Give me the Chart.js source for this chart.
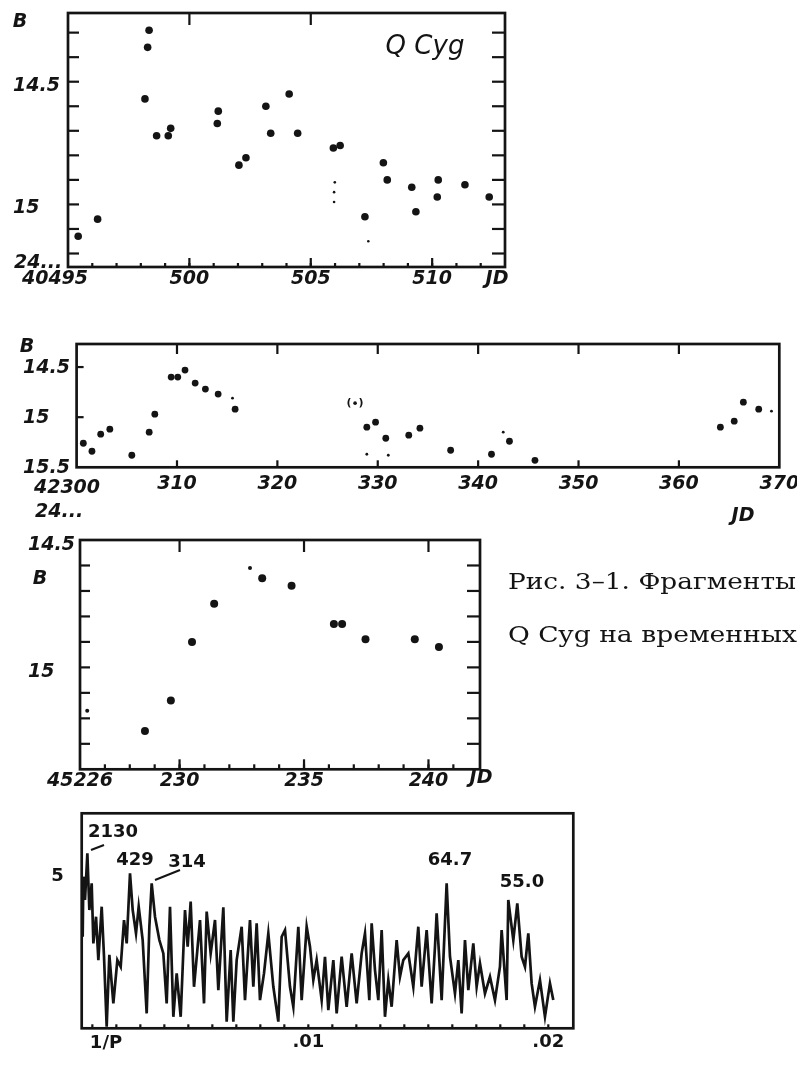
<!DOCTYPE html>
<html>
<head>
<meta charset="utf-8">
<script src="https://cdn.jsdelivr.net/npm/chart.js@4.4.1/dist/chart.umd.min.js"></script>
<style>
  html, body { margin: 0; padding: 0; background: #fff; }
  #page { position: relative; width: 797px; height: 1066px; overflow: hidden; background: #fff; }
  canvas { position: absolute; left: 0; }
</style>
</head>
<body>
<div id="page">
  <canvas id="c1" width="540" height="300" style="top:0px"></canvas>
  <canvas id="c2" width="797" height="220" style="top:320px"></canvas>
  <canvas id="c3" width="797" height="275" style="top:525px"></canvas>
  <canvas id="c4" width="600" height="266" style="top:800px"></canvas>
</div>
<script>
// --- panel 1: JD 2440495..513, B magnitude
const p1Jd = [495.42, 496.22, 498.34, 498.28, 498.17, 498.65, 499.13, 499.23, 501.19, 501.15, 502.04, 502.33, 503.15, 503.35, 504.11, 504.46, 505.93, 506.21, 507.23, 507.99, 508.15, 509.16, 509.33, 510.25, 510.21, 511.35, 512.35];
const p1B = [15.13, 15.06, 14.29, 14.36, 14.57, 14.72, 14.72, 14.69, 14.62, 14.67, 14.84, 14.81, 14.60, 14.71, 14.55, 14.71, 14.77, 14.76, 15.05, 14.83, 14.90, 14.93, 15.03, 14.90, 14.97, 14.92, 14.97];
const p1FaintJd = [505.99, 505.96, 505.96, 507.37];
const p1FaintB = [14.91, 14.95, 14.99, 15.15];
const p1XTicks = [500, 505, 510];
const p1YTicks = [14.5, 15];

// --- panel 2: JD 2442300..370
const p2Jd = [300.67, 301.53, 302.40, 303.31, 305.50, 307.23, 307.79, 309.42, 310.08, 310.80, 311.81, 312.83, 314.10, 315.79, 328.91, 329.78, 330.80, 333.09, 334.20, 337.26, 341.33, 343.12, 345.66, 364.13, 365.51, 366.42, 367.95];
const p2B = [15.26, 15.34, 15.17, 15.12, 15.38, 15.15, 14.97, 14.60, 14.60, 14.53, 14.66, 14.72, 14.77, 14.92, 15.10, 15.05, 15.21, 15.18, 15.11, 15.33, 15.37, 15.24, 15.43, 15.10, 15.04, 14.85, 14.92];
const p2FaintJd = [315.53, 328.91, 331.05, 342.50, 369.22];
const p2FaintB = [14.81, 15.37, 15.38, 15.15, 14.94];
const p2BracketJd = [327.74];
const p2BracketB = [14.86];
const p2XTicks = [310, 320, 330, 340, 350, 360, 370];
const p2YTicks = [14.5, 15, 15.5];

// --- panel 3: JD 2445226..242
const p3Jd = [228.61, 229.65, 230.50, 231.39, 233.32, 234.50, 236.20, 236.53, 237.47, 239.45, 240.42];
const p3B = [15.25, 15.13, 14.90, 14.75, 14.65, 14.68, 14.83, 14.83, 14.89, 14.89, 14.92];
const p3FaintJd = [226.29, 232.83];
const p3FaintB = [15.17, 14.61];
const p3XTicks = [226, 230, 235, 240];
const p3YTicks = [14.5, 15];

// --- panel 4: power spectrum vs frequency 1/P
const freq = [0.000597, 0.000625, 0.000694, 0.000792, 0.000875, 0.000972, 0.001042, 0.001153, 0.00125, 0.001389,
  0.001486, 0.001597, 0.001708, 0.001875, 0.002042, 0.002181, 0.002319, 0.002431, 0.002569, 0.002681,
  0.002819, 0.002931, 0.003097, 0.003264, 0.003375, 0.003472, 0.003611, 0.003792, 0.003958, 0.004097,
  0.004236, 0.004375, 0.004514, 0.004681, 0.004861, 0.004972, 0.005097, 0.005236, 0.005375, 0.005486,
  0.005653, 0.005764, 0.005931, 0.006111, 0.00625, 0.006458, 0.006597, 0.006764, 0.006875, 0.007014,
  0.007222, 0.007361, 0.007569, 0.007708, 0.007847, 0.007986, 0.008153, 0.008333, 0.008542, 0.00875,
  0.008889, 0.009028, 0.009236, 0.009375, 0.009583, 0.009722, 0.009931, 0.010069, 0.010208, 0.010347,
  0.010556, 0.010694, 0.010833, 0.011042, 0.011181, 0.011389, 0.011597, 0.011806, 0.012014, 0.012222,
  0.012361, 0.012542, 0.012639, 0.012778, 0.012917, 0.013056, 0.013194, 0.013333, 0.013472, 0.013681,
  0.013819, 0.013958, 0.014167, 0.014375, 0.014583, 0.014722, 0.014931, 0.015139, 0.015278, 0.015347,
  0.015556, 0.015764, 0.015903, 0.016111, 0.01625, 0.016389, 0.016528, 0.016667, 0.016875, 0.017014,
  0.017153, 0.017361, 0.017569, 0.017778, 0.017986, 0.018056, 0.018264, 0.018333, 0.018542, 0.018708,
  0.018889, 0.019028, 0.019167, 0.019306, 0.019444, 0.019653, 0.019861, 0.020069, 0.020208];
const power = [0.302, 0.500, 0.423, 0.577, 0.390, 0.478, 0.280, 0.368, 0.225, 0.401,
  0.236, 0.005, 0.242, 0.082, 0.225, 0.203, 0.357, 0.280, 0.511, 0.390,
  0.313, 0.401, 0.291, 0.049, 0.335, 0.478, 0.368, 0.291, 0.247, 0.082,
  0.401, 0.038, 0.181, 0.038, 0.390, 0.269, 0.418, 0.137, 0.258, 0.357,
  0.082, 0.385, 0.247, 0.357, 0.126, 0.399, 0.022, 0.258, 0.022, 0.225,
  0.335, 0.093, 0.357, 0.137, 0.346, 0.093, 0.181, 0.313, 0.137, 0.022,
  0.302, 0.324, 0.137, 0.071, 0.335, 0.093, 0.335, 0.269, 0.159, 0.225,
  0.093, 0.236, 0.060, 0.225, 0.049, 0.236, 0.071, 0.247, 0.082, 0.247,
  0.313, 0.093, 0.346, 0.192, 0.093, 0.324, 0.038, 0.159, 0.071, 0.291,
  0.170, 0.225, 0.247, 0.137, 0.335, 0.137, 0.324, 0.082, 0.269, 0.379,
  0.093, 0.478, 0.236, 0.115, 0.225, 0.049, 0.291, 0.126, 0.280, 0.137,
  0.214, 0.115, 0.170, 0.093, 0.203, 0.324, 0.093, 0.423, 0.291, 0.412,
  0.236, 0.203, 0.313, 0.148, 0.071, 0.159, 0.038, 0.148, 0.093];
const freqTicks = [0.01, 0.02];
const powerTicks = [0.5];

const INK = '#141414';
const HAND = { family: 'DejaVu Sans', size: 19, style: 'italic', weight: 'bold' };
const PLAIN = { family: 'DejaVu Sans', size: 18, weight: 'bold' };
const HAND_CSS = 'italic bold 19px "DejaVu Sans"';
const PLAIN_CSS = 'bold 18px "DejaVu Sans"';
const SERIF_CSS = '22px "DejaVu Serif"';

function range(a, b, step) {
  const out = [];
  for (let v = a; v <= b + step / 2; v += step) out.push(+v.toFixed(5));
  return out;
}
const pts = (xs, ys) => xs.map((x, i) => ({ x, y: ys[i] }));

// frame, inward ticks and loose lettering of the scanned figure
const paper = {
  id: 'paper',
  afterDraw(chart, args, o) {
    const { ctx, chartArea: a, scales } = chart;
    ctx.save();
    ctx.strokeStyle = INK;
    ctx.fillStyle = INK;
    ctx.lineWidth = o.frame || 2.7;
    ctx.strokeRect(a.left, a.top, a.right - a.left, a.bottom - a.top);

    ctx.lineWidth = 2.2;
    (o.ticks || []).forEach(t => {
      t.at.forEach(v => {
        ctx.beginPath();
        if (t.side === 'bottom' || t.side === 'top') {
          const p = scales.x.getPixelForValue(v);
          const y0 = t.side === 'bottom' ? a.bottom : a.top;
          ctx.moveTo(p, y0);
          ctx.lineTo(p, y0 + (t.side === 'bottom' ? -t.len : t.len));
        } else {
          const p = scales.y.getPixelForValue(v);
          const x0 = t.side === 'left' ? a.left : a.right;
          ctx.moveTo(x0, p);
          ctx.lineTo(x0 + (t.side === 'left' ? t.len : -t.len), p);
        }
        ctx.stroke();
      });
    });

    if (o.brackets != null) {
      ctx.font = 'bold 11px "DejaVu Sans"';
      ctx.textAlign = 'center';
      ctx.textBaseline = 'middle';
      chart.getDatasetMeta(o.brackets).data.forEach(pt => {
        ctx.fillText('(', pt.x - 6, pt.y);
        ctx.fillText(')', pt.x + 6, pt.y);
      });
    }

    // texts are given in page coordinates
    ctx.translate(0, -chart.canvas.offsetTop);
    (o.texts || []).forEach(s => {
      ctx.font = s.font;
      ctx.textAlign = s.align || 'center';
      ctx.textBaseline = s.base || 'middle';
      if (s.w) {
        const m = ctx.measureText(s.t).width;
        ctx.save();
        ctx.translate(s.x, s.y);
        ctx.scale(s.w / m, 1);
        ctx.textAlign = 'left';
        ctx.fillText(s.t, 0, 0);
        ctx.restore();
      } else {
        ctx.fillText(s.t, s.x, s.y);
      }
    });
    ctx.lineWidth = 2;
    (o.lines || []).forEach(l => {
      ctx.beginPath();
      ctx.moveTo(l[0], l[1]);
      ctx.lineTo(l[2], l[3]);
      ctx.stroke();
    });
    ctx.restore();
  }
};

function xAxis(min, max, ticks, fmt, height, pad, font) {
  return {
    type: 'linear', min, max,
    grid: { display: false, drawTicks: false },
    border: { display: false },
    ticks: { font, color: INK, padding: pad, maxRotation: 0, autoSkip: false, callback: fmt },
    afterBuildTicks: s => { s.ticks = ticks.map(v => ({ value: v })); },
    afterFit: s => { s.height = height; s.paddingLeft = 0; s.paddingRight = 0; }
  };
}

function yAxis(min, max, ticks, fmt, width, opts) {
  return {
    type: 'linear', min, max, reverse: opts.reverse,
    grid: { display: false, drawTicks: false },
    border: { display: false },
    ticks: {
      font: opts.font, color: INK, padding: opts.pad || 0, crossAlign: opts.align,
      labelOffset: opts.shift || 0, autoSkip: false, callback: fmt
    },
    afterBuildTicks: s => { s.ticks = ticks.map(v => ({ value: v })); },
    afterFit: s => { s.width = width; s.paddingTop = 0; s.paddingBottom = 0; }
  };
}

function dots(data, r) {
  return { data, pointRadius: r, pointBackgroundColor: INK, pointBorderWidth: 0, clip: 6 };
}

const base = {
  responsive: false,
  animation: false,
  events: []
};

// panel 1
new Chart(document.getElementById('c1'), {
  type: 'scatter',
  data: { datasets: [dots(pts(p1Jd, p1B), 3.8), dots(pts(p1FaintJd, p1FaintB), 1.3)] },
  options: {
    ...base,
    layout: { padding: { left: 13, top: 13, right: 35, bottom: 0 } },
    scales: {
      x: xAxis(495, 513, p1XTicks, v => String(v), 33, 1, HAND),
      y: yAxis(14.22, 15.255, p1YTicks, v => String(v), 55, { reverse: true, font: HAND, align: 'far', shift: 4 })
    },
    plugins: {
      legend: { display: false }, tooltip: { enabled: false },
      paper: {
        ticks: [
          { side: 'bottom', at: range(496, 512, 1), len: 4 },
          { side: 'bottom', at: p1XTicks, len: 9 },
          { side: 'top', at: [500, 505], len: 12 },
          { side: 'left', at: range(14.3, 15.2, 0.1), len: 11 },
          { side: 'right', at: range(14.3, 15.2, 0.1), len: 13 }
        ],
        texts: [
          { t: 'B', x: 20, y: 22, font: HAND_CSS },
          { t: 'Q Cyg', x: 425, y: 47, font: 'italic 26px "DejaVu Sans"' },
          { t: '24...', x: 14, y: 263, font: HAND_CSS, align: 'left' },
          { t: '40495', x: 55, y: 279, font: HAND_CSS },
          { t: 'JD', x: 497, y: 279, font: HAND_CSS }
        ]
      }
    }
  },
  plugins: [paper]
});

// panel 2
new Chart(document.getElementById('c2'), {
  type: 'scatter',
  data: { datasets: [dots(pts(p2Jd, p2B), 3.4), dots(pts(p2FaintJd, p2FaintB), 1.4), dots(pts(p2BracketJd, p2BracketB), 1.8)] },
  options: {
    ...base,
    layout: { padding: { left: 23, top: 24, right: 17.7, bottom: 0 } },
    scales: {
      x: xAxis(300, 370, p2XTicks, v => String(v), 72.7, 5, HAND),
      y: yAxis(14.27, 15.5, p2YTicks, v => String(v), 53.6, { reverse: true, font: HAND, align: 'far', shift: 1 })
    },
    plugins: {
      legend: { display: false }, tooltip: { enabled: false },
      paper: {
        brackets: 2,
        ticks: [
          { side: 'bottom', at: range(310, 360, 10), len: 7 },
          { side: 'top', at: range(310, 360, 10), len: 10 },
          { side: 'left', at: [14.5, 15], len: 7 }
        ],
        texts: [
          { t: 'B', x: 27, y: 347, font: HAND_CSS },
          { t: '42300', x: 67, y: 488, font: HAND_CSS },
          { t: '24...', x: 35, y: 512, font: HAND_CSS, align: 'left' },
          { t: 'JD', x: 743, y: 516, font: HAND_CSS }
        ]
      }
    }
  },
  plugins: [paper]
});

// panel 3 with the caption beside it
new Chart(document.getElementById('c3'), {
  type: 'scatter',
  data: { datasets: [dots(pts(p3Jd, p3B), 4), dots(pts(p3FaintJd, p3FaintB), 2)] },
  options: {
    ...base,
    layout: { padding: { left: 28, top: 15, right: 317, bottom: 0 } },
    scales: {
      x: xAxis(226, 242.07, p3XTicks, v => (v === 226 ? '45226' : String(v)), 30.7, 0, HAND),
      y: yAxis(14.5, 15.4, p3YTicks, v => String(v), 52, { reverse: true, font: HAND, align: 'far', shift: 5 })
    },
    plugins: {
      legend: { display: false }, tooltip: { enabled: false },
      paper: {
        ticks: [
          { side: 'bottom', at: range(227, 241, 1), len: 5 },
          { side: 'bottom', at: [230, 235, 240], len: 10 },
          { side: 'top', at: [230, 235, 240], len: 12 },
          { side: 'left', at: range(14.6, 15.3, 0.1), len: 10 },
          { side: 'right', at: range(14.6, 15.3, 0.1), len: 13 }
        ],
        texts: [
          { t: 'B', x: 40, y: 579, font: HAND_CSS },
          { t: 'JD', x: 481, y: 778, font: HAND_CSS },
          { t: 'Рис. 3–1. Фрагменты', x: 508, y: 589, font: SERIF_CSS, base: 'alphabetic', w: 288 },
          { t: 'Q Cyg на временных', x: 508, y: 642, font: SERIF_CSS, base: 'alphabetic', w: 289 }
        ]
      }
    }
  },
  plugins: [paper]
});

// panel 4: periodogram
new Chart(document.getElementById('c4'), {
  type: 'scatter',
  data: {
    datasets: [{
      data: pts(freq, power), showLine: true, borderColor: INK, borderWidth: 2.7,
      pointRadius: 0, tension: 0, clip: 0
    }]
  },
  options: {
    ...base,
    layout: { padding: { left: 0, top: 13.3, right: 26.7, bottom: 0 } },
    scales: {
      x: xAxis(0.000556, 0.021042, freqTicks, v => String(v).replace('0.', '.'), 37.7, 3, PLAIN),
      y: yAxis(0, 0.709, powerTicks, () => '5', 81.7, { reverse: false, font: PLAIN, align: 'near', pad: 18 })
    },
    plugins: {
      legend: { display: false }, tooltip: { enabled: false },
      paper: {
        ticks: [{ side: 'bottom', at: range(0.001, 0.02, 0.001), len: 4 }],
        texts: [
          { t: '2130', x: 113, y: 832, font: PLAIN_CSS },
          { t: '429', x: 135, y: 860, font: PLAIN_CSS },
          { t: '314', x: 187, y: 862, font: PLAIN_CSS },
          { t: '64.7', x: 450, y: 860, font: PLAIN_CSS },
          { t: '55.0', x: 522, y: 882, font: PLAIN_CSS },
          { t: '1/P', x: 106, y: 1043, font: PLAIN_CSS }
        ],
        lines: [[91, 850, 104, 845], [155, 880, 180, 870]]
      }
    }
  },
  plugins: [paper]
});
</script>
</body>
</html>
